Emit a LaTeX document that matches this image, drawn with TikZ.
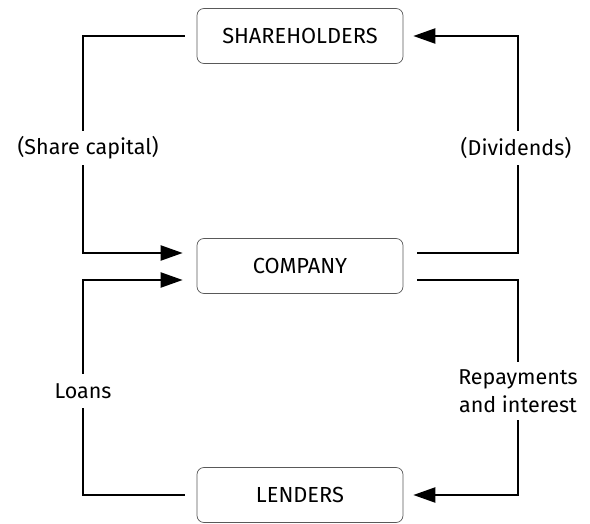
\documentclass[tikz,border=0pt]{standalone}
\usepackage{fontspec}
\setmainfont{Fira Sans}
\usetikzlibrary{arrows.meta}
\begin{document}
\begin{tikzpicture}[x=1pt,y=1pt,
  box/.style={draw=black!65,line width=0.7pt,rounded corners=7pt,minimum width=206pt,minimum height=55pt,inner sep=0pt,font=\fontsize{21.8}{26}\selectfont},
  conn/.style={line width=2.2pt},
  arr/.style={conn,-{Triangle[length=22pt,width=15pt]}},
  lbl/.style={fill=white,inner xsep=3pt,inner ysep=6pt,align=center,font=\fontsize{21.5}{28}\selectfont}]
\useasboundingbox (0,0) rectangle (590,523);
\node[box] (sh) at (300,487) {SHAREHOLDERS};
\node[box] (co) at (300,257) {COMPANY};
\node[box] (le) at (300,28) {LENDERS};
% corners
\coordinate (a1) at (83,487);
\coordinate (a2) at (83,270);
\coordinate (b1) at (83,28);
\coordinate (b2) at (83,243);
\coordinate (c1) at (518,270);
\coordinate (c2) at (518,487);
\coordinate (d1) at (518,243);
\coordinate (d2) at (518,28);
\draw[arr] ([xshift=-12pt]sh.west) -- (a1) -- (a2) -- ([xshift=-14pt]co.west |- a2);
\draw[arr] ([xshift=-12pt]le.west) -- (b1) -- (b2) -- ([xshift=-14pt]co.west |- b2);
\draw[arr] ([xshift=14pt]co.east |- c1) -- (c1) -- (c2) -- ([xshift=10pt]sh.east);
\draw[arr] ([xshift=14pt]co.east |- d1) -- (d1) -- (d2) -- ([xshift=10pt]le.east);
\node[lbl] (l1) at (88,375) {(Share capital)};
\node[lbl] (l2) at (516,375) {(Dividends)};
\node[lbl,inner ysep=9pt] (l3) at (83,132) {Loans};
\node[lbl,inner ysep=7pt] (l4) at (518,132) {Repayments\\and interest};
\end{tikzpicture}
\end{document}
